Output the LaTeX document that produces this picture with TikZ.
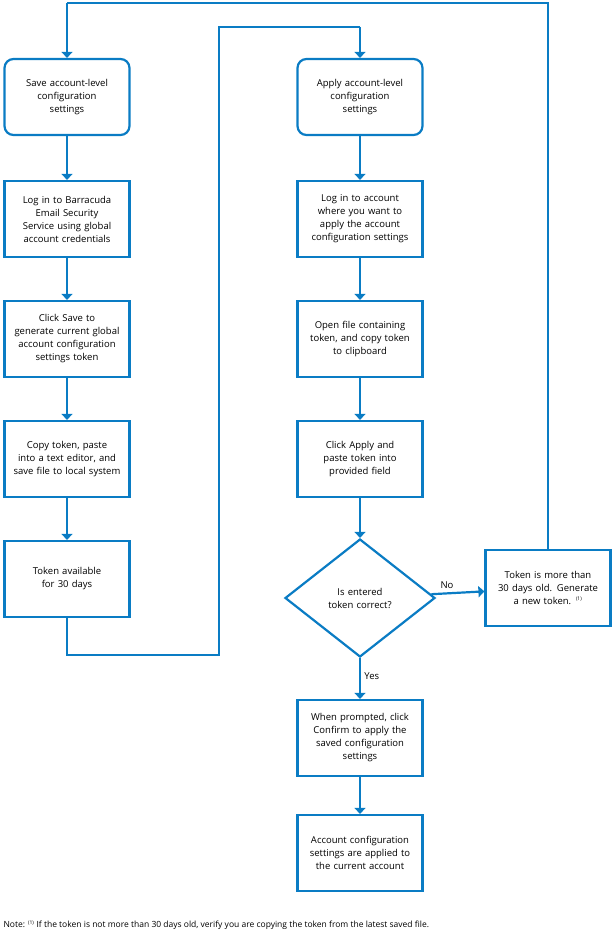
\documentclass[tikz,border=0pt]{standalone}
\usepackage{fontspec}
\setmainfont{Open Sans}
\usetikzlibrary{shapes.geometric,positioning,arrows.meta}
\definecolor{flowblue}{HTML}{0A7CC4}
\tikzstyle{stepbox}=[draw=flowblue, line width=2.2pt, minimum width=125pt, minimum height=76pt, text width=112pt, align=center, fill=white, font=\fontsize{9.5}{13}\selectfont]
\tikzstyle{startbox}=[stepbox, rounded corners=9pt]
\tikzstyle{decision}=[draw=flowblue, line width=2.2pt, diamond, aspect=1.3, minimum width=150pt, minimum height=118pt, inner sep=0pt, align=center, font=\fontsize{9.5}{13}\selectfont]
\tikzstyle{flow}=[draw=flowblue, line width=2.2pt, -{Triangle[length=6pt,width=11pt]}]
\tikzstyle{link}=[draw=flowblue, line width=2.2pt]

\begin{document}
\begin{tikzpicture}[x=1pt,y=-1pt]
            \useasboundingbox (0,0) rectangle (615,933);

            \begin{scope}[every node/.style={stepbox}]
                \node[startbox] (s1) at (67,97) {Save account-level\\configuration\\settings};
                \node (s2) at (67,219) {Log in to Barracuda\\Email Security\\Service using global\\account credentials};
                \node (s3) at (67,339) {Click Save to\\generate current global\\account configuration\\settings token};
                \node (s4) at (67,459) {Copy token, paste\\into a text editor, and\\save file to local system};
                \node (s5) at (67,579) {Token available\\for 30 days};

                \node[startbox] (a1) at (360,97) {Apply account-level\\configuration\\settings};
                \node (a2) at (360,219) {Log in to account\\where you want to\\apply the account\\configuration settings};
                \node (a3) at (360,339) {Open file containing\\token, and copy token\\to clipboard};
                \node (a4) at (360,459) {Click Apply and\\paste token into\\provided field};
                \node[decision] (q) at (360,598) {Is entered\\token correct?};
                \node (old) at (548,588) {Token is more than\\30 days old. Generate\\a new token. \textsuperscript{\tiny(1)}};
                \node (a5) at (360,738) {When prompted, click\\Confirm to apply the\\saved configuration\\settings};
                \node (a6) at (360,853) {Account configuration\\settings are applied to\\the current account};
            \end{scope}

            \begin{scope}[every path/.style={flow}]
                \path (s1) -- (s2);
                \path (s2) -- (s3);
                \path (s3) -- (s4);
                \path (s4) -- (s5);
                \path (a1) -- (a2);
                \path (a2) -- (a3);
                \path (a3) -- (a4);
                \path (a4) -- (q);
                \path (q) -- node[above left, font=\fontsize{9.5}{12}\selectfont, text=black] {No} (old);
                \path (q) -- node[right, pos=0.45, font=\fontsize{9.5}{12}\selectfont, text=black] {Yes} (a5);
                \path (a5) -- (a6);
            \end{scope}

            % loop back from the left column to the right column
            \coordinate (c1) at (67,655);
            \coordinate (c2) at (219,655);
            \coordinate (c3) at (219,27);
            \coordinate (c4) at (360,27);
            \path[link] (s5.south) -- (c1) -- (c2) -- (c3) -- (c4);
            \path[flow] (c4) -- (a1);

            % loop back to the start
            \coordinate (d1) at (548,3);
            \coordinate (d2) at (67,3);
            \path[link] (old.north) -- (d1) -- (d2);
            \path[flow] (d2) -- (s1);

            \node[anchor=west, font=\fontsize{8.5}{10}\selectfont] (note) at (0,925) {Note: \textsuperscript{\tiny(1)} If the token is not more than 30 days old, verify you are copying the token from the latest saved file.};
        \end{tikzpicture}
\end{document}
